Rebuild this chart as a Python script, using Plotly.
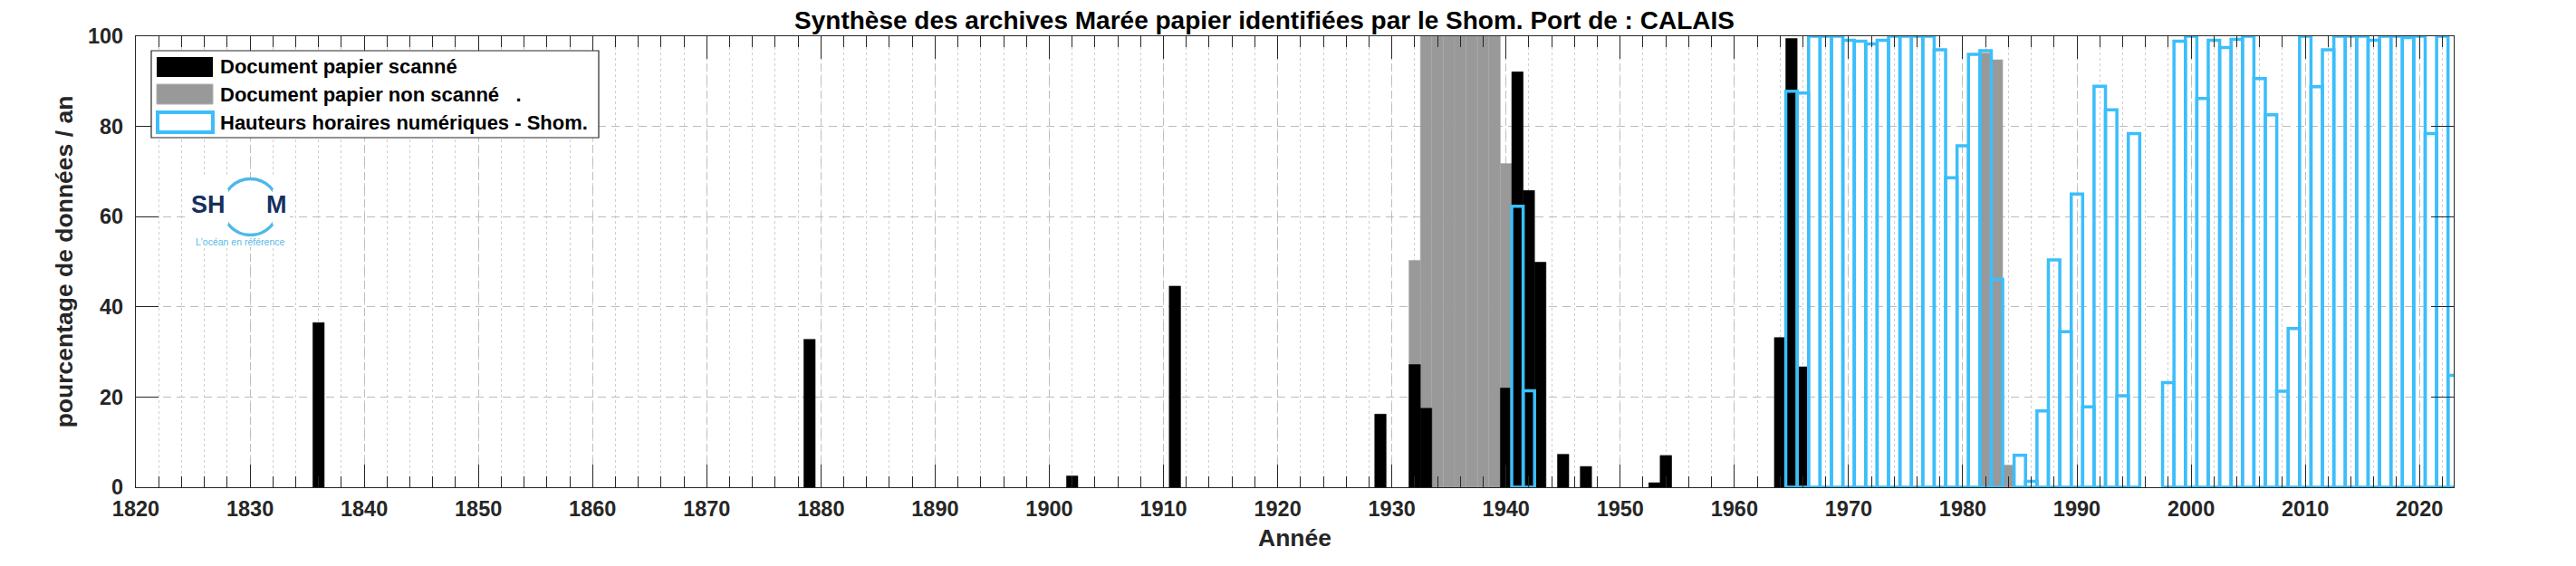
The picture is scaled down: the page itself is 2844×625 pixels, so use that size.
import plotly.graph_objects as go

# ---------------- data ----------------
scanned_years = [1836, 1879, 1902, 1911, 1929, 1932, 1933, 1940, 1941, 1942, 1943,
                 1945, 1947, 1953, 1954, 1964, 1965, 1966]
scanned_pct = [36.5, 32.8, 2.5, 44.6, 16.2, 27.2, 17.5, 22.0, 92.1, 65.8, 49.9,
               7.3, 4.6, 1.0, 7.0, 33.2, 99.5, 26.7]

nonscanned_years = [1932, 1933, 1934, 1935, 1936, 1937, 1938, 1939, 1940, 1954,
                    1982, 1983, 1984]
nonscanned_pct = [50.3, 100, 100, 100, 100, 100, 100, 100, 71.8, 7.1,
                  96.3, 94.8, 4.9]

numeric_years = [1941, 1942, 1965, 1966, 1967, 1968, 1969, 1970, 1971, 1972, 1973,
                 1974, 1975, 1976, 1977, 1978, 1979, 1980, 1981, 1982, 1983, 1985,
                 1986, 1987, 1988, 1989, 1990, 1991, 1992, 1993, 1994, 1995, 1998,
                 1999, 2000, 2001, 2002, 2003, 2004, 2005, 2006, 2007, 2008, 2009,
                 2010, 2011, 2012, 2013, 2014, 2015, 2016, 2017, 2018, 2019, 2020,
                 2021, 2022, 2023]
numeric_pct = [62.3, 21.4, 87.8, 87.4, 100, 100, 100, 99.1, 98.9, 98.3, 99.1,
               100, 100, 100, 100, 97.0, 68.6, 75.7, 96.0, 96.8, 46.1, 7.1,
               1.3, 16.9, 50.4, 34.5, 65.0, 17.8, 88.9, 83.7, 20.3, 78.4, 23.2,
               98.9, 100, 86.2, 99.1, 97.5, 99.3, 100, 90.6, 82.6, 21.3, 35.2,
               100, 88.8, 97.0, 100, 100, 100, 99.1, 100, 100, 99.7, 100,
               78.4, 100, 24.8]

x_tick_vals = list(range(1820, 2021, 10))
y_tick_vals = [0, 20, 40, 60, 80, 100]

title_text = "Synthèse des archives Marée papier identifiées par le Shom. Port de : CALAIS"
legend_labels = ["Document papier scanné",
                 "Document papier non scanné   .",
                 "Hauteurs horaires numériques - Shom."]

# ---------------- styling ----------------
W, H = 2844, 625
ML, MR, MT, MB = 142, 143, 32, 95
PW, PH = W - ML - MR, H - MT - MB
FONT = "Liberation Sans, Arial, sans-serif"
BLUE = "#3CBEFA"
GRAY = "#999999"
AXC = "#262626"


def px(x):
    return (x - ML) / PW


def py(y):
    return (H - MB - y) / PH


fig = go.Figure()
fig.add_trace(go.Bar(x=nonscanned_years, y=nonscanned_pct, width=1,
                     name=legend_labels[1],
                     marker=dict(color=GRAY, line=dict(color="#a8a8a8", width=0.5))))
fig.add_trace(go.Bar(x=scanned_years, y=scanned_pct, width=1,
                     name=legend_labels[0],
                     marker=dict(color="black", line=dict(color="black", width=0.5))))
fig.add_trace(go.Bar(x=numeric_years, y=numeric_pct, width=1,
                     name=legend_labels[2],
                     marker=dict(color="rgba(0,0,0,0)", line=dict(color=BLUE, width=3.5))))

shapes = []
annotations = []

# ---- manual legend ----
shapes.append(dict(type="rect", xref="paper", yref="paper", layer="above",
                   x0=px(159), x1=px(653), y0=py(48), y1=py(144),
                   fillcolor="white", line=dict(color=AXC, width=1.2)))
shapes.append(dict(type="rect", xref="paper", yref="paper", layer="above",
                   x0=px(165), x1=px(227), y0=py(55), y1=py(77),
                   fillcolor="black", line=dict(width=0)))
shapes.append(dict(type="rect", xref="paper", yref="paper", layer="above",
                   x0=px(165), x1=px(227), y0=py(85), y1=py(107),
                   fillcolor=GRAY, line=dict(color="#b0b0b0", width=1)))
shapes.append(dict(type="rect", xref="paper", yref="paper", layer="above",
                   x0=px(166), x1=px(227), y0=py(116), y1=py(138),
                   fillcolor="white", line=dict(color=BLUE, width=4)))
for lab, yc in zip(legend_labels, [66, 96, 127]):
    annotations.append(dict(text=lab, xref="paper", yref="paper",
                            x=px(233), y=py(yc), xanchor="left", yanchor="middle",
                            showarrow=False,
                            font=dict(family=FONT, size=22, color="black", weight="bold")))

# ---- Shom logo ----
shapes.append(dict(type="rect", xref="paper", yref="paper", layer="above",
                   x0=px(200), x1=px(312), y0=py(188), y1=py(265),
                   fillcolor="white", line=dict(width=0)))
cx, cy, r = 268.5, 220.5, 31
shapes.append(dict(type="circle", xref="paper", yref="paper", layer="above",
                   x0=px(cx - r), x1=px(cx + r), y0=py(cy + r), y1=py(cy - r),
                   line=dict(color="#4DB8E8", width=3.3)))
shapes.append(dict(type="rect", xref="paper", yref="paper", layer="above",
                   x0=px(232), x1=px(244), y0=py(201), y1=py(240),
                   fillcolor="white", line=dict(width=0)))
shapes.append(dict(type="rect", xref="paper", yref="paper", layer="above",
                   x0=px(293), x1=px(305), y0=py(201), y1=py(240),
                   fillcolor="white", line=dict(width=0)))
annotations.append(dict(text="SH", xref="paper", yref="paper", x=px(222), y=py(218),
                        xanchor="center", yanchor="middle", showarrow=False,
                        font=dict(family=FONT, size=27, color="#14305F", weight="bold")))
annotations.append(dict(text="M", xref="paper", yref="paper", x=px(297), y=py(218),
                        xanchor="center", yanchor="middle", showarrow=False,
                        font=dict(family=FONT, size=27, color="#14305F", weight="bold")))
annotations.append(dict(text="L'océan en référence", xref="paper", yref="paper",
                        x=px(257), y=py(259), xanchor="center", yanchor="middle",
                        showarrow=False,
                        font=dict(family=FONT, size=10.5, color="#5BB8E6")))

fig.update_layout(
    width=W, height=H,
    margin=dict(l=ML, r=MR, t=MT, b=MB, autoexpand=False),
    paper_bgcolor="white", plot_bgcolor="white",
    barmode="overlay",
    showlegend=False,
    title=dict(text=title_text, x=1388 / W, xanchor="center",
               xref="container", y=1 - 14 / H, yanchor="middle",
               font=dict(family=FONT, size=28, color="black", weight="bold")),
    font=dict(family=FONT, color=AXC),
    shapes=shapes,
    annotations=annotations,
)

fig.update_xaxes(
    range=[1820, 2023], tickvals=x_tick_vals,
    ticks="inside", ticklen=25, tickwidth=1.3, tickcolor=AXC,
    showline=True, linecolor=AXC, linewidth=1.3, mirror="ticks",
    showgrid=True, gridcolor="#bdbdbd", griddash="9px,6px", gridwidth=1,
    minor=dict(dtick=2, tick0=1820, ticks="inside", ticklen=12, tickcolor=AXC,
               tickwidth=1.3, showgrid=True, gridcolor="#cfcfcf", griddash="dot",
               gridwidth=1),
    tickfont=dict(family=FONT, size=23.5, color=AXC, weight="bold"),
    ticklabelstandoff=3,
    title=dict(text="Année", standoff=10,
               font=dict(family=FONT, size=26.5, color=AXC, weight="bold")),
    zeroline=False,
)
fig.update_yaxes(
    range=[0, 100], tickvals=y_tick_vals,
    ticks="inside", ticklen=25, tickwidth=1.3, tickcolor=AXC,
    showline=True, linecolor=AXC, linewidth=1.3, mirror="ticks",
    showgrid=True, gridcolor="#bdbdbd", griddash="9px,6px", gridwidth=1,
    tickfont=dict(family=FONT, size=23.5, color=AXC, weight="bold"),
    ticklabelstandoff=8,
    title=dict(text="pourcentage de données / an", standoff=8,
               font=dict(family=FONT, size=26.5, color=AXC, weight="bold")),
    zeroline=False,
)

fig.write_html("out.html")
